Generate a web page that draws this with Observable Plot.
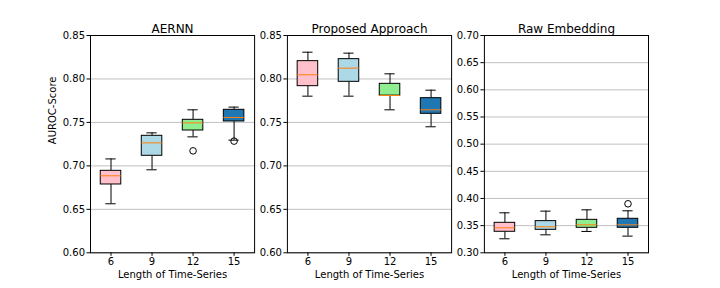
<!DOCTYPE html>
<html>
<head>
<meta charset="utf-8">
<script src="https://cdn.jsdelivr.net/npm/d3@7"></script>
<script src="https://cdn.jsdelivr.net/npm/@observablehq/plot@0.6"></script>
<style>
  html, body { margin: 0; padding: 0; background: #fff; }
  #chart { position: relative; width: 720px; height: 288px; background: #fff; overflow: hidden; }
  #chart svg { position: absolute; top: 0; }
</style>
</head>
<body>
<div id="chart"></div>
<script>
// ---- Data ----
const categories = [6, 9, 12, 15];
const boxColors = ["#ffc0cb", "#add8e6", "#90ee90", "#1f77b4"];
const panelTitles = ["AERNN", "Proposed Approach", "Raw Embedding"];

// each series: [whiskerLow, q1, median, q3, whiskerHigh] per category
const aernnStats = [
  [0.6564, 0.6786, 0.6886, 0.6943, 0.7080],
  [0.6955, 0.7116, 0.7265, 0.7346, 0.7380],
  [0.7334, 0.7407, 0.7495, 0.7530, 0.7645],
  [0.7296, 0.7511, 0.7557, 0.7645, 0.7676]
];
const aernnOutliers = [[], [], [0.7173], [0.7285]];

const proposedStats = [
  [0.7802, 0.7917, 0.8048, 0.8205, 0.8308],
  [0.7802, 0.7967, 0.8124, 0.8228, 0.8297],
  [0.7645, 0.7808, 0.7810, 0.7944, 0.8059],
  [0.7450, 0.7599, 0.7645, 0.7779, 0.7871]
];
const proposedOutliers = [[], [], [], []];

const rawStats = [
  [0.3258, 0.3387, 0.3460, 0.3552, 0.3736],
  [0.3331, 0.3423, 0.3479, 0.3583, 0.3767],
  [0.3393, 0.3460, 0.3515, 0.3607, 0.3791],
  [0.3307, 0.3460, 0.3515, 0.3626, 0.3773]
];
const rawOutliers = [[], [], [], [0.3902]];

const yDomains = [[0.60, 0.85], [0.60, 0.85], [0.30, 0.70]];
const yTicks = [
  [0.60, 0.65, 0.70, 0.75, 0.80, 0.85],
  [0.60, 0.65, 0.70, 0.75, 0.80, 0.85],
  [0.30, 0.35, 0.40, 0.45, 0.50, 0.55, 0.60, 0.65, 0.70]
];
const xLabel = "Length of Time-Series";
const yLabel = "AUROC-Score";

// ---- Layout ----
const frames = [[90, 254.1], [286.9, 451.1], [483.9, 648]];
const svgBounds = [[0, 262], [256, 460], [456, 720]];
const FONT = "DejaVu Sans, sans-serif";

const seriesStats = [aernnStats, proposedStats, rawStats];
const seriesOut = [aernnOutliers, proposedOutliers, rawOutliers];

const container = document.getElementById("chart");

seriesStats.forEach((stats, p) => {
  const rows = stats.map((s, i) => ({
    i: i + 1, cat: categories[i], color: boxColors[i],
    lo: s[0], q1: s[1], med: s[2], q3: s[3], hi: s[4]
  }));
  const outs = [];
  seriesOut[p].forEach((arr, i) => arr.forEach(v => outs.push({i: i + 1, v})));

  const [sl, sr] = svgBounds[p];
  const width = sr - sl;
  const marginLeft = frames[p][0] - sl;
  const marginRight = sr - frames[p][1];

  const marks = [
    Plot.ruleY(yTicks[p], {stroke: "#b0b0b0", strokeWidth: 0.8}),
    // whiskers
    Plot.ruleX(rows, {x: "i", y1: "lo", y2: "q1", stroke: "black", strokeWidth: 1}),
    Plot.ruleX(rows, {x: "i", y1: "q3", y2: "hi", stroke: "black", strokeWidth: 1}),
    // caps
    Plot.ruleY(rows, {y: "lo", x1: d => d.i - 0.125, x2: d => d.i + 0.125, stroke: "black", strokeWidth: 1}),
    Plot.ruleY(rows, {y: "hi", x1: d => d.i - 0.125, x2: d => d.i + 0.125, stroke: "black", strokeWidth: 1}),
    // boxes
    Plot.rect(rows, {x1: d => d.i - 0.25, x2: d => d.i + 0.25, y1: "q1", y2: "q3",
      fill: "color", stroke: "black", strokeWidth: 1}),
    // medians
    Plot.ruleY(rows, {y: "med", x1: d => d.i - 0.25, x2: d => d.i + 0.25, stroke: "#ff7f0e", strokeWidth: 1}),
    // outliers
    Plot.dot(outs, {x: "i", y: "v", r: 3.3, stroke: "black", fill: "none", strokeWidth: 1}),
    Plot.frame({stroke: "black", strokeWidth: 1}),
    Plot.axisX({ticks: [1, 2, 3, 4], tickFormat: d => String(categories[d - 1]),
      tickSize: 3.5, tickPadding: 2, fontSize: 10, label: null}),
    Plot.axisY({ticks: yTicks[p], tickFormat: d3.format(".2f"),
      tickSize: 3.5, tickPadding: 2, fontSize: 10, label: null}),
    Plot.text([panelTitles[p]], {frameAnchor: "top", dy: -11, fontSize: 12, fill: "black"}),
    Plot.text([xLabel], {frameAnchor: "bottom", dy: 25, fontSize: 10, fill: "black"})
  ];
  if (p === 0) {
    marks.push(Plot.text([yLabel], {frameAnchor: "left", dx: -38, rotate: -90, fontSize: 10, fill: "black"}));
  }

  const svg = Plot.plot({
    width, height: 288,
    marginLeft, marginRight, marginTop: 35, marginBottom: 35.7,
    style: {fontFamily: FONT, fontSize: "10px", background: "transparent", color: "black"},
    x: {type: "linear", domain: [0.5, 4.5]},
    y: {domain: yDomains[p]},
    color: {type: "identity"},
    marks
  });
  svg.style.left = sl + "px";
  container.appendChild(svg);
});
</script>
</body>
</html>
